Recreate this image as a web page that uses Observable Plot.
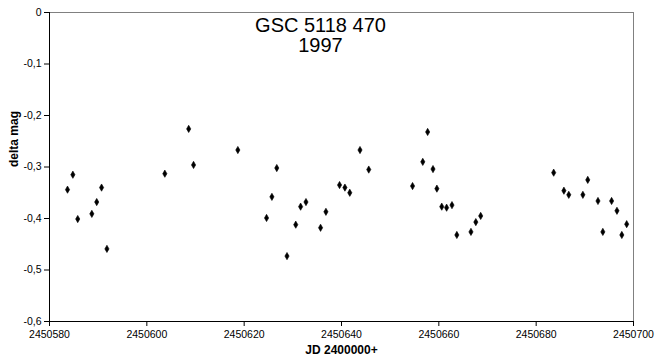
<!DOCTYPE html>
<html><head><meta charset="utf-8">
<script src="https://cdn.jsdelivr.net/npm/d3@7"></script>
<script src="https://cdn.jsdelivr.net/npm/@observablehq/plot@0.6"></script>
<style>
body{margin:0;background:#fff;}
svg{font-family:"Liberation Sans",Arial,sans-serif;}
</style></head>
<body><div id="chart"></div>
<script>
const jd = [2450583.7,2450584.8,2450585.8,2450588.7,2450589.7,2450590.7,2450591.8,2450603.7,2450608.6,2450609.6,
 2450618.7,2450624.6,2450625.7,2450626.7,2450628.8,2450630.6,2450631.6,2450632.7,2450635.7,2450636.8,
 2450639.6,2450640.7,2450641.7,2450643.8,2450645.6,2450654.6,2450656.7,2450657.7,2450658.8,2450659.6,
 2450660.6,2450661.6,2450662.7,2450663.7,2450666.6,2450667.6,2450668.6,2450683.6,2450685.7,2450686.7,
 2450689.6,2450690.6,2450692.7,2450693.7,2450695.5,2450696.6,2450697.6,2450698.6];
const deltaMag = [-0.344,-0.315,-0.401,-0.391,-0.368,-0.340,-0.459,-0.313,-0.226,-0.296,
 -0.267,-0.399,-0.358,-0.302,-0.473,-0.412,-0.377,-0.368,-0.418,-0.387,
 -0.335,-0.340,-0.350,-0.267,-0.305,-0.337,-0.290,-0.232,-0.304,-0.342,
 -0.377,-0.379,-0.374,-0.432,-0.426,-0.407,-0.395,-0.311,-0.346,-0.354,
 -0.354,-0.325,-0.366,-0.426,-0.366,-0.385,-0.432,-0.411];
const xTicks = [2450580,2450600,2450620,2450640,2450660,2450680,2450700];
const yTicks = [0,-0.1,-0.2,-0.3,-0.4,-0.5,-0.6];
const titleLines = ["GSC 5118 470","1997"];
const xLabel = "JD 2400000+";
const yLabel = "delta mag";

const data = jd.map((x,i)=>({x, y: deltaMag[i]}));
const fmtY = d => d === 0 ? "0" : d.toFixed(1).replace(".", ",");

const chart = Plot.plot({
  width: 656, height: 360,
  marginLeft: 49, marginRight: 23, marginTop: 12, marginBottom: 39,
  style: {fontFamily: '"Liberation Sans", Arial, sans-serif', fontSize: "10px", color: "#000", background: "#fff"},
  x: {domain: [2450580, 2450700], ticks: xTicks, tickFormat: d => String(d), label: null, tickSize: 5},
  y: {domain: [-0.6, 0], ticks: yTicks, tickFormat: fmtY, label: null, tickSize: 5},
  marks: [
    Plot.ruleY([yTicks[0]], {stroke: "#808080", strokeWidth: 1}),
    Plot.ruleX([xTicks[xTicks.length-1]], {stroke: "#808080", strokeWidth: 1}),
    Plot.ruleX([xTicks[0]], {stroke: "#000", strokeWidth: 1}),
    Plot.ruleY([yTicks[yTicks.length-1]], {stroke: "#000", strokeWidth: 1}),
    Plot.axisX({ticks: xTicks, tickFormat: d => String(d), tickSize: 5, tickPadding: 4, fontSize: 10.5, label: null}),
    Plot.axisY({ticks: yTicks, tickFormat: fmtY, tickSize: 5, tickPadding: 3, fontSize: 10.5, label: null}),
    Plot.dot(data, {x: "x", y: "y", symbol: "diamond", r: 2.2, fill: "#000", stroke: "#000", strokeWidth: 0.6}),
    Plot.text([titleLines.join("\n")], {frameAnchor: "top", dx: -21, dy: 5, lineAnchor: "top", fontSize: 20, lineHeight: 1.0, fill: "#000"}),
    Plot.text([xLabel], {frameAnchor: "bottom", dy: 32, fontSize: 12, fontWeight: "bold", fill: "#000"}),
    Plot.text([yLabel], {frameAnchor: "left", dx: -35, rotate: -90, fontSize: 12, fontWeight: "bold", fill: "#000"})
  ]
});
document.getElementById("chart").appendChild(chart);
</script></body></html>
